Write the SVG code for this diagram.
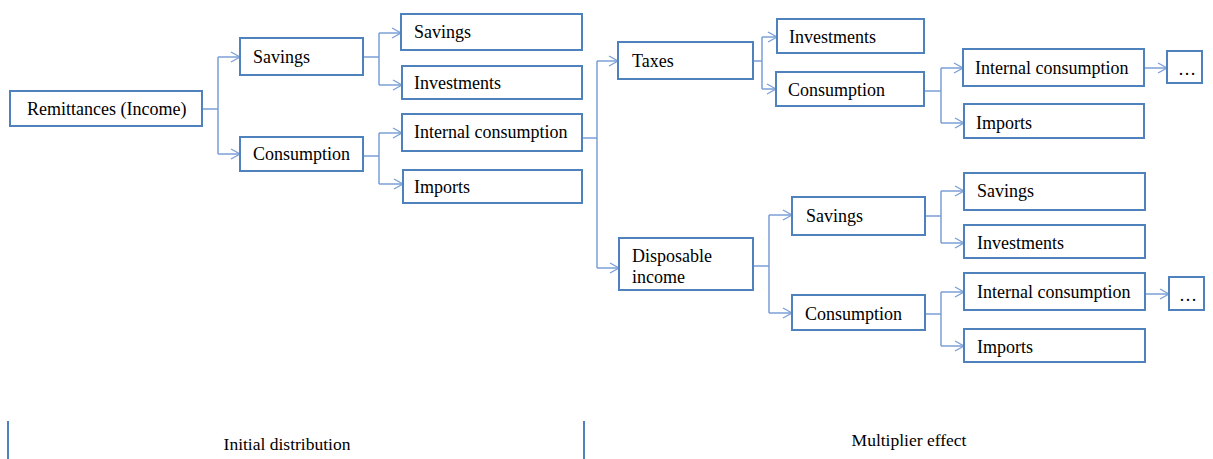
<svg xmlns="http://www.w3.org/2000/svg" width="1213" height="459" viewBox="0 0 1213 459">
<defs>
<marker id="arr" markerWidth="12" markerHeight="12" refX="10" refY="6" orient="auto" markerUnits="userSpaceOnUse">
<path d="M1,1 L10,6 L1,11" fill="none" stroke="#7b9fd6" stroke-width="1.3"/>
</marker>
<style>
.box{fill:#fff;stroke:#4f81bd;stroke-width:2}
.t{font-family:"Liberation Serif","Times New Roman",serif;font-size:18px;fill:#000}
.c{fill:none;stroke:#7b9fd6;stroke-width:1.5}
.a{fill:none;stroke:#7b9fd6;stroke-width:1.5;marker-end:url(#arr)}
.sep{stroke:#4f81bd;stroke-width:2}
.lbl{font-family:"Liberation Serif","Times New Roman",serif;font-size:17.5px;fill:#000;text-anchor:middle}
</style>
</defs>
<rect width="1213" height="459" fill="#fff"/>
<g id="connectors">
<path class="c" d="M202,109 H218 M218,57 V154"/>
<path class="a" d="M218,57 H240"/>
<path class="a" d="M218,154 H240"/>
<path class="c" d="M363,57 H379 M379,33 V85"/>
<path class="a" d="M379,33 H401"/>
<path class="a" d="M379,85 H402"/>
<path class="c" d="M363,156 H379 M379,133 V184"/>
<path class="a" d="M379,133 H402"/>
<path class="a" d="M379,184 H403"/>
<path class="c" d="M582,138 H597 M597,61 V268"/>
<path class="a" d="M597,61 H618"/>
<path class="a" d="M597,268 H619"/>
<path class="c" d="M753,61 H762 M762,37 V89"/>
<path class="a" d="M762,37 H777"/>
<path class="a" d="M762,89 H776"/>
<path class="c" d="M924,91 H941 M941,68 V123"/>
<path class="a" d="M941,68 H963"/>
<path class="a" d="M941,123 H964"/>
<path class="a" d="M1144,68 H1167"/>
<path class="c" d="M753,266 H769 M769,215 V313"/>
<path class="a" d="M769,215 H792"/>
<path class="a" d="M769,313 H792"/>
<path class="c" d="M925,216 H941 M941,191 V243"/>
<path class="a" d="M941,191 H964"/>
<path class="a" d="M941,243 H964"/>
<path class="c" d="M925,314 H941 M941,292 V346"/>
<path class="a" d="M941,292 H964"/>
<path class="a" d="M941,346 H964"/>
<path class="a" d="M1145,294 H1169"/>
</g>
<g id="n-remit"><rect class="box" x="10" y="91" width="192" height="35"/><text class="t" x="27" y="115">Remittances (Income)</text></g>
<g id="n-sav1"><rect class="box" x="240" y="38" width="123" height="37"/><text class="t" x="253" y="63">Savings</text></g>
<g id="n-con1"><rect class="box" x="240" y="137" width="123" height="34"/><text class="t" x="253" y="160">Consumption</text></g>
<g id="n-sav2"><rect class="box" x="401" y="14" width="181" height="36"/><text class="t" x="414" y="38">Savings</text></g>
<g id="n-inv2"><rect class="box" x="402" y="66" width="180" height="33"/><text class="t" x="414" y="89">Investments</text></g>
<g id="n-int2"><rect class="box" x="402" y="114" width="180" height="37"/><text class="t" x="414" y="138">Internal consumption</text></g>
<g id="n-imp2"><rect class="box" x="403" y="170" width="179" height="33"/><text class="t" x="414" y="193">Imports</text></g>
<g id="n-tax"><rect class="box" x="618" y="42" width="135" height="37"/><text class="t" x="632" y="67">Taxes</text></g>
<g id="n-disp"><rect class="box" x="619" y="238" width="134" height="52"/><text class="t" x="632" y="262">Disposable</text><text class="t" x="632" y="283">income</text></g>
<g id="n-inv3"><rect class="box" x="777" y="19" width="147" height="34"/><text class="t" x="789" y="43">Investments</text></g>
<g id="n-con3"><rect class="box" x="776" y="72" width="148" height="34"/><text class="t" x="788" y="96">Consumption</text></g>
<g id="n-int3"><rect class="box" x="963" y="49" width="181" height="37"/><text class="t" x="975" y="74">Internal consumption</text></g>
<g id="n-imp3"><rect class="box" x="964" y="104" width="180" height="34"/><text class="t" x="976" y="129">Imports</text></g>
<g id="n-dots1"><rect class="box" x="1167" y="51" width="35" height="32"/><text class="t" x="1178" y="75">…</text></g>
<g id="n-sav4"><rect class="box" x="792" y="197" width="133" height="38"/><text class="t" x="806" y="222">Savings</text></g>
<g id="n-con4"><rect class="box" x="792" y="295" width="133" height="35"/><text class="t" x="805" y="320">Consumption</text></g>
<g id="n-sav5"><rect class="box" x="964" y="173" width="181" height="37"/><text class="t" x="977" y="197">Savings</text></g>
<g id="n-inv5"><rect class="box" x="964" y="225" width="181" height="33"/><text class="t" x="977" y="249">Investments</text></g>
<g id="n-int5"><rect class="box" x="964" y="273" width="181" height="37"/><text class="t" x="977" y="298">Internal consumption</text></g>
<g id="n-imp5"><rect class="box" x="964" y="329" width="181" height="33"/><text class="t" x="977" y="353">Imports</text></g>
<g id="n-dots2"><rect class="box" x="1169" y="277" width="35" height="33"/><text class="t" x="1179" y="301">…</text></g>
<g id="sections">
<line class="sep" x1="8" y1="421" x2="8" y2="459"/>
<line class="sep" x1="584" y1="421" x2="584" y2="459"/>
<text class="lbl" x="287" y="450">Initial distribution</text>
<text class="lbl" x="909" y="446">Multiplier effect</text>
</g>
</svg>
